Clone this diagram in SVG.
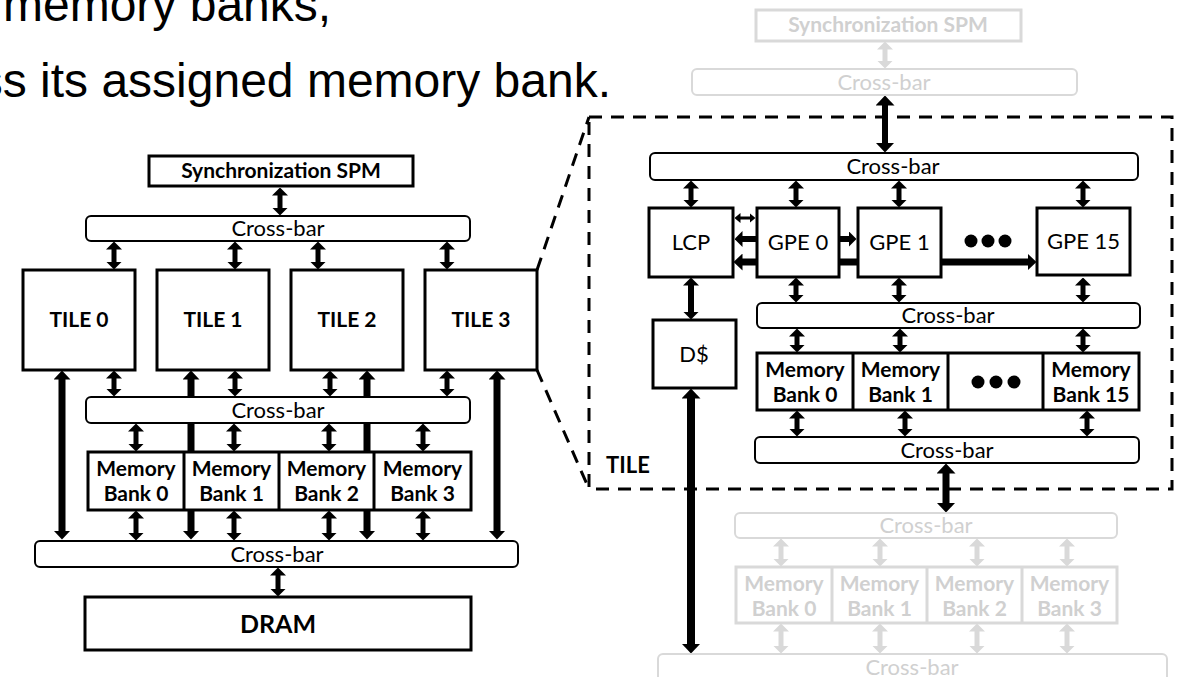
<svg xmlns="http://www.w3.org/2000/svg" width="1179" height="677" viewBox="0 0 1179 677">
<style>
.box{fill:#fff;stroke:#000;stroke-width:3}
.cb{fill:#fff;stroke:#000;stroke-width:2}
.fbox{fill:#fff;stroke:#d9d9d9;stroke-width:3}
.fcb{fill:#fff;stroke:#d9d9d9;stroke-width:2}
.t{font-family:Lato,"Open Sans",sans-serif;font-size:22px;text-anchor:middle;fill:#000}
.b{font-weight:bold;font-size:21px}
.f{fill:#d0d0d0}
.head{font-family:"Liberation Sans",Arial,sans-serif;font-size:48px;fill:#000}
.dash{fill:none;stroke:#000;stroke-width:3;stroke-dasharray:13 9}
.a{stroke:#000;stroke-width:5;marker-start:url(#m1);marker-end:url(#m1)}
.a1{stroke:#000;stroke-width:6;marker-end:url(#m1)}
.al{stroke:#000;stroke-width:7;marker-start:url(#m4);marker-end:url(#m4)}
.ab{stroke:#000;stroke-width:7;marker-start:url(#m2);marker-end:url(#m2)}
.at{stroke:#000;stroke-width:3;marker-start:url(#m3);marker-end:url(#m3)}
.af{stroke:#d9d9d9;stroke-width:5;marker-start:url(#mf);marker-end:url(#mf)}
</style>
<defs>
<marker id="m1" markerUnits="userSpaceOnUse" viewBox="0 0 8 16" markerWidth="8" markerHeight="16" refX="0.5" refY="8" orient="auto-start-reverse"><path d="M0,0 L8,8 L0,16 z" fill="#000"/></marker>
<marker id="m2" markerUnits="userSpaceOnUse" viewBox="0 0 10 19" markerWidth="10" markerHeight="19" refX="0.5" refY="9.5" orient="auto-start-reverse"><path d="M0,0 L10,9.5 L0,19 z" fill="#000"/></marker>
<marker id="m3" markerUnits="userSpaceOnUse" viewBox="0 0 6 10" markerWidth="6" markerHeight="10" refX="0.5" refY="5" orient="auto-start-reverse"><path d="M0,0 L6,5 L0,10 z" fill="#000"/></marker>
<marker id="m4" markerUnits="userSpaceOnUse" viewBox="0 0 9 17" markerWidth="9" markerHeight="17" refX="0.5" refY="8.5" orient="auto-start-reverse"><path d="M0,0 L9,8.5 L0,17 z" fill="#000"/></marker>
<marker id="mf" markerUnits="userSpaceOnUse" viewBox="0 0 8 16" markerWidth="8" markerHeight="16" refX="0.5" refY="8" orient="auto-start-reverse"><path d="M0,0 L8,8 L0,16 z" fill="#d9d9d9"/></marker>
</defs>
<rect width="1179" height="677" fill="#fff"/>

<g id="heading">
<text class="head" x="3" y="21">memory banks,</text>
<text class="head" x="611" y="97" text-anchor="end">ss its assigned memory bank.</text>
</g>

<g id="zoom-outline">
<line class="dash" x1="537" y1="270" x2="589" y2="117"/>
<line class="dash" x1="537" y1="370" x2="589" y2="489"/>
<rect class="dash" x="589" y="117" width="583" height="372"/>
<text class="t b" x="606" y="473" style="text-anchor:start;font-size:22px">TILE</text>
</g>

<g id="connectors">
<line class="a" x1="280" y1="195" x2="280" y2="208"/>
<line class="a" x1="114" y1="249" x2="114" y2="262"/>
<line class="a" x1="235" y1="249" x2="235" y2="262"/>
<line class="a" x1="318" y1="249" x2="318" y2="262"/>
<line class="a" x1="447" y1="249" x2="447" y2="262"/>
<line class="a" x1="114" y1="378" x2="114" y2="389"/>
<line class="a" x1="235" y1="378" x2="235" y2="389"/>
<line class="a" x1="330" y1="378" x2="330" y2="389"/>
<line class="a" x1="447" y1="378" x2="447" y2="389"/>
<line class="al" x1="62" y1="379" x2="62" y2="531"/>
<line class="al" x1="191" y1="379" x2="191" y2="531"/>
<line class="al" x1="367" y1="379" x2="367" y2="531"/>
<line class="al" x1="497" y1="379" x2="497" y2="531"/>
<line class="a" x1="136" y1="431" x2="136" y2="444"/>
<line class="a" x1="234" y1="431" x2="234" y2="444"/>
<line class="a" x1="329" y1="431" x2="329" y2="444"/>
<line class="a" x1="423" y1="431" x2="423" y2="444"/>
<line class="a" x1="136" y1="518" x2="136" y2="533"/>
<line class="a" x1="234" y1="518" x2="234" y2="533"/>
<line class="a" x1="329" y1="518" x2="329" y2="533"/>
<line class="a" x1="423" y1="518" x2="423" y2="533"/>
<line class="a" x1="278" y1="575" x2="278" y2="589"/>
<line class="af" x1="885" y1="49" x2="885" y2="61"/>
<line class="af" x1="781" y1="546" x2="781" y2="559"/>
<line class="af" x1="880" y1="546" x2="880" y2="559"/>
<line class="af" x1="977" y1="546" x2="977" y2="559"/>
<line class="af" x1="1067" y1="546" x2="1067" y2="559"/>
<line class="af" x1="781" y1="631" x2="781" y2="646"/>
<line class="af" x1="880" y1="631" x2="880" y2="646"/>
<line class="af" x1="977" y1="631" x2="977" y2="646"/>
<line class="af" x1="1067" y1="631" x2="1067" y2="646"/>
<line class="ab" x1="885" y1="105" x2="885" y2="143" style="stroke-width:6"/>
<line class="a" x1="691" y1="188" x2="691" y2="200"/>
<line class="a" x1="796" y1="188" x2="796" y2="200"/>
<line class="a" x1="899" y1="188" x2="899" y2="200"/>
<line class="a" x1="1083" y1="188" x2="1083" y2="200"/>
<line class="at" x1="740" y1="218" x2="750" y2="218"/>
<line class="a1" x1="757" y1="239" x2="742" y2="239"/>
<line class="a1" x1="839" y1="239" x2="849" y2="239"/>
<line class="al" x1="742" y1="262" x2="1028" y2="262"/>
<line class="a" x1="796" y1="285" x2="796" y2="295"/>
<line class="a" x1="899" y1="285" x2="899" y2="295"/>
<line class="a" x1="1083" y1="285" x2="1083" y2="295"/>
<line class="a" x1="691" y1="285" x2="691" y2="312" style="stroke-width:6"/>
<line class="a" x1="797" y1="336" x2="797" y2="345"/>
<line class="a" x1="900" y1="336" x2="900" y2="345"/>
<line class="a" x1="1083" y1="336" x2="1083" y2="345"/>
<line class="a" x1="797" y1="418" x2="797" y2="429"/>
<line class="a" x1="905" y1="418" x2="905" y2="429"/>
<line class="a" x1="1087" y1="418" x2="1087" y2="429"/>
<line class="ab" x1="946" y1="473" x2="946" y2="503"/>
<line class="ab" x1="691" y1="398" x2="691" y2="644" style="stroke-width:8"/>
</g>

<g id="sync-spm"><rect class="box" x="149" y="156" width="264" height="30"/><text class="t b" x="281" y="178">Synchronization SPM</text></g>
<g id="crossbar-top"><rect class="cb" x="86" y="216" width="384" height="25" rx="5"/><text class="t" x="278" y="236">Cross-bar</text></g>
<g id="tile0"><rect class="box" x="23" y="270" width="112" height="100"/><text class="t b" x="79" y="327">TILE 0</text></g>
<g id="tile1"><rect class="box" x="157" y="270" width="112" height="100"/><text class="t b" x="213" y="327">TILE 1</text></g>
<g id="tile2"><rect class="box" x="291" y="270" width="112" height="100"/><text class="t b" x="347" y="327">TILE 2</text></g>
<g id="tile3"><rect class="box" x="425" y="270" width="112" height="100"/><text class="t b" x="481" y="327">TILE 3</text></g>
<g id="crossbar-mid"><rect class="cb" x="86" y="397" width="384" height="26" rx="5"/><text class="t" x="278" y="418">Cross-bar</text></g>
<g id="membanks">
<rect class="box" x="88" y="452" width="383" height="58"/>
<line x1="184" y1="452" x2="184" y2="510" stroke="#000" stroke-width="3"/>
<line x1="279" y1="452" x2="279" y2="510" stroke="#000" stroke-width="3"/>
<line x1="374" y1="452" x2="374" y2="510" stroke="#000" stroke-width="3"/>
<text class="t b" x="136" y="476">Memory</text><text class="t b" x="136" y="501">Bank 0</text>
<text class="t b" x="231.5" y="476">Memory</text><text class="t b" x="231.5" y="501">Bank 1</text>
<text class="t b" x="326.5" y="476">Memory</text><text class="t b" x="326.5" y="501">Bank 2</text>
<text class="t b" x="422.5" y="476">Memory</text><text class="t b" x="422.5" y="501">Bank 3</text>
</g>
<g id="crossbar-bottom"><rect class="cb" x="35" y="541" width="483" height="26" rx="5"/><text class="t" x="277" y="562">Cross-bar</text></g>
<g id="dram"><rect class="box" x="85" y="597" width="386" height="53"/><text class="t b" x="278" y="633" style="font-size:25px">DRAM</text></g>

<g id="f-sync-spm"><rect class="fbox" x="756" y="10" width="265" height="31"/><text class="t b f" x="888" y="32">Synchronization SPM</text></g>
<g id="f-crossbar-top"><rect class="fcb" x="692" y="69" width="385" height="26" rx="5"/><text class="t f" x="884" y="90">Cross-bar</text></g>
<g id="f-crossbar-mid"><rect class="fcb" x="735" y="513" width="382" height="25" rx="5"/><text class="t f" x="926" y="533">Cross-bar</text></g>
<g id="f-membanks">
<rect class="fbox" x="736" y="567" width="381" height="56"/>
<line x1="832" y1="567" x2="832" y2="623" stroke="#d9d9d9" stroke-width="3"/>
<line x1="927" y1="567" x2="927" y2="623" stroke="#d9d9d9" stroke-width="3"/>
<line x1="1022" y1="567" x2="1022" y2="623" stroke="#d9d9d9" stroke-width="3"/>
<text class="t b f" x="784" y="591">Memory</text><text class="t b f" x="784" y="616">Bank 0</text>
<text class="t b f" x="879.5" y="591">Memory</text><text class="t b f" x="879.5" y="616">Bank 1</text>
<text class="t b f" x="974.5" y="591">Memory</text><text class="t b f" x="974.5" y="616">Bank 2</text>
<text class="t b f" x="1069.5" y="591">Memory</text><text class="t b f" x="1069.5" y="616">Bank 3</text>
</g>
<g id="f-crossbar-bottom"><rect class="fcb" x="658" y="654" width="509" height="32" rx="5"/><text class="t f" x="912" y="675">Cross-bar</text></g>

<g id="t-crossbar-top"><rect class="cb" x="650" y="153" width="488" height="27" rx="5"/><text class="t" x="893" y="174">Cross-bar</text></g>
<g id="lcp"><rect class="box" x="649" y="208" width="84" height="69"/><text class="t" x="691" y="250">LCP</text></g>
<g id="gpe0"><rect class="box" x="757" y="208" width="82" height="69"/><text class="t" x="798" y="250">GPE 0</text></g>
<g id="gpe1"><rect class="box" x="858" y="208" width="83" height="69"/><text class="t" x="899.5" y="250">GPE 1</text></g>
<g id="gpe-dots"><circle cx="971" cy="241" r="6.5"/><circle cx="988" cy="241" r="6.5"/><circle cx="1005" cy="241" r="6.5"/></g>
<g id="gpe15"><rect class="box" x="1037" y="208" width="93" height="67"/><text class="t" x="1083.5" y="249">GPE 15</text></g>
<g id="t-crossbar-mid"><rect class="cb" x="757" y="303" width="383" height="25" rx="5"/><text class="t" x="948" y="323">Cross-bar</text></g>
<g id="dcache"><rect class="box" x="653" y="320" width="83" height="68"/><text class="t" x="694" y="362">D$</text></g>
<g id="t-membanks">
<rect class="box" x="757" y="353" width="382" height="57"/>
<line x1="853" y1="353" x2="853" y2="410" stroke="#000" stroke-width="3"/>
<line x1="948" y1="353" x2="948" y2="410" stroke="#000" stroke-width="3"/>
<line x1="1043" y1="353" x2="1043" y2="410" stroke="#000" stroke-width="3"/>
<text class="t b" x="805" y="377">Memory</text><text class="t b" x="805" y="402">Bank 0</text>
<text class="t b" x="900.5" y="377">Memory</text><text class="t b" x="900.5" y="402">Bank 1</text>
<circle cx="978" cy="382" r="6.5"/><circle cx="996" cy="382" r="6.5"/><circle cx="1014" cy="382" r="6.5"/>
<text class="t b" x="1091" y="377">Memory</text><text class="t b" x="1091" y="402">Bank 15</text>
</g>
<g id="t-crossbar-bottom"><rect class="cb" x="755" y="437" width="384" height="26" rx="5"/><text class="t" x="947" y="458">Cross-bar</text></g>
</svg>
